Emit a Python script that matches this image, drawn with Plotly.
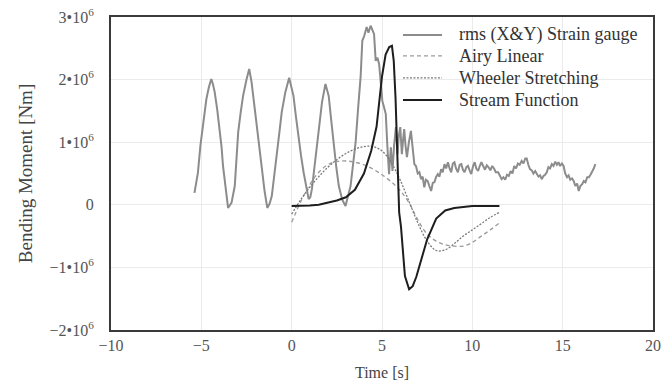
import plotly.graph_objects as go

# ---- data (time in s, bending moment in units of 1e6 Nm) ----
gauge_t = [-5.38, -5.19, -5.05, -4.91, -4.80, -4.72, -4.58, -4.45, -4.36, -4.26, -4.12, -3.98, -3.88, -3.80, -3.66,
           -3.52, -3.45, -3.33, -3.15, -3.05, -2.96, -2.82, -2.69, -2.50, -2.35, -2.22, -2.08, -1.94, -1.80, -1.66,
           -1.50, -1.35, -1.22, -1.10, -0.95, -0.79, -0.67, -0.55, -0.35, -0.14, 0.10, 0.24, 0.38, 0.52, 0.66,
           0.80, 0.94, 1.03, 1.12, 1.26, 1.40, 1.55, 1.68, 1.87, 2.05, 2.19, 2.33, 2.47, 2.61, 2.80,
           2.98, 3.10, 3.26, 3.40, 3.54, 3.68, 3.82, 3.91, 4.02, 4.15, 4.25, 4.37, 4.47, 4.56, 4.65,
           4.75, 4.84, 4.93, 5.02, 5.12, 5.21, 5.30, 5.39, 5.49, 5.58, 5.67, 5.77, 5.86, 5.93, 6.01,
           6.10, 6.17, 6.23, 6.30, 6.38, 6.49, 6.60, 6.70, 6.79, 6.88, 6.98, 7.07, 7.16, 7.25, 7.34,
           7.43, 7.53, 7.62, 7.72, 7.81, 7.90, 8.00, 8.09, 8.18, 8.27, 8.36, 8.46, 8.55, 8.65, 8.74,
           8.83, 8.92, 9.01, 9.10, 9.20, 9.30, 9.39, 9.48, 9.57, 9.67, 9.76, 9.85, 9.94, 10.04, 10.13,
           10.22, 10.32, 10.41, 10.50, 10.60, 10.70, 10.80, 10.90, 11.00, 11.10, 11.20, 11.30, 11.43, 11.53, 11.62,
           11.72, 11.82, 11.92, 12.02, 12.12, 12.22, 12.32, 12.42, 12.52, 12.62, 12.73, 12.83, 12.93, 13.01, 13.10,
           13.19, 13.29, 13.38, 13.48, 13.57, 13.66, 13.75, 13.84, 13.94, 14.03, 14.12, 14.21, 14.30, 14.40, 14.49,
           14.59, 14.68, 14.77, 14.86, 14.96, 15.05, 15.14, 15.24, 15.33, 15.42, 15.52, 15.61, 15.70, 15.80, 15.89,
           15.98, 16.08, 16.17, 16.26, 16.36, 16.45, 16.54, 16.63, 16.72, 16.81]
gauge_v = [0.19, 0.51, 0.95, 1.26, 1.50, 1.69, 1.88, 2.01, 1.93, 1.80, 1.52, 1.21, 0.92, 0.62, 0.30,
           -0.05, -0.02, 0.03, 0.30, 0.70, 1.16, 1.48, 1.74, 2.00, 2.17, 1.96, 1.62, 1.26, 0.90, 0.57,
           0.22, -0.05, 0.02, 0.14, 0.48, 0.84, 1.18, 1.48, 1.80, 2.03, 1.74, 1.40, 1.05, 0.78, 0.52,
           0.28, 0.09, 0.12, 0.25, 0.60, 0.94, 1.30, 1.64, 1.93, 1.74, 1.35, 0.94, 0.60, 0.30, 0.08,
           -0.02, 0.10, 0.30, 0.65, 1.00, 1.55, 2.06, 2.62, 2.70, 2.84, 2.75, 2.86, 2.80, 2.73, 2.30,
           2.35, 2.25, 1.90, 1.66, 1.55, 1.45, 0.92, 0.49, 0.92, 0.54, 0.95, 1.24, 0.81, 1.10, 1.24,
           0.81, 1.05, 1.21, 0.95, 0.76, 1.00, 1.18, 0.90, 0.65, 0.62, 0.50, 0.52, 0.41, 0.45, 0.28,
           0.40, 0.38, 0.30, 0.22, 0.35, 0.36, 0.45, 0.49, 0.45, 0.57, 0.52, 0.65, 0.58, 0.68, 0.58,
           0.52, 0.66, 0.68, 0.58, 0.52, 0.64, 0.65, 0.56, 0.52, 0.60, 0.62, 0.55, 0.49, 0.62, 0.68,
           0.58, 0.54, 0.62, 0.68, 0.62, 0.56, 0.63, 0.60, 0.55, 0.62, 0.58, 0.52, 0.52, 0.46, 0.41,
           0.44, 0.40, 0.48, 0.46, 0.54, 0.50, 0.62, 0.58, 0.66, 0.64, 0.70, 0.66, 0.74, 0.74, 0.64,
           0.57, 0.55, 0.50, 0.54, 0.49, 0.45, 0.47, 0.41, 0.46, 0.48, 0.52, 0.60, 0.58, 0.65, 0.62,
           0.69, 0.64, 0.68, 0.62, 0.66, 0.62, 0.50, 0.44, 0.47, 0.40, 0.42, 0.38, 0.30, 0.34, 0.22,
           0.30, 0.33, 0.38, 0.36, 0.44, 0.44, 0.48, 0.52, 0.58, 0.65]

airy_t = [0, 0.5, 1.0, 1.5, 2.0, 2.5, 3.0, 3.5, 4.0, 4.5, 5.0, 5.5, 6.0, 6.5, 7.0, 7.5, 8.0, 8.5, 9.0,
          9.5, 10.0, 10.5, 11.0, 11.5]
airy_v = [-0.28, 0.05, 0.32, 0.52, 0.64, 0.69, 0.70, 0.68, 0.64, 0.57, 0.48, 0.37, 0.23, 0.03, -0.25,
          -0.47, -0.58, -0.64, -0.66, -0.66, -0.60, -0.50, -0.40, -0.29]

wheeler_t = [0, 0.5, 1.0, 1.5, 2.0, 2.5, 3.0, 3.5, 4.0, 4.5, 5.0, 5.5, 6.0, 6.5, 7.0, 7.5, 8.0, 8.5, 9.0,
             9.5, 10.0, 10.5, 11.0, 11.5]
wheeler_v = [-0.15, 0.08, 0.28, 0.45, 0.60, 0.72, 0.82, 0.89, 0.93, 0.93, 0.86, 0.68, 0.40, 0.05, -0.30,
             -0.58, -0.73, -0.72, -0.62, -0.50, -0.40, -0.30, -0.20, -0.12]

stream_t = [0, 0.5, 1.0, 1.5, 2.0, 2.5, 3.0, 3.5, 4.0, 4.4, 4.7, 5.0, 5.2, 5.4, 5.55, 5.65, 5.75, 5.85,
            5.95, 6.05, 6.15, 6.27, 6.5, 6.7, 6.9, 7.2, 7.5, 8.0, 8.5, 9.0, 9.5, 10.0, 10.5, 11.0, 11.5]
stream_v = [-0.02, -0.02, -0.01, 0.0, 0.03, 0.07, 0.12, 0.24, 0.50, 0.86, 1.25, 2.05, 2.40, 2.52, 2.54,
            2.30, 1.70, 0.90, -0.12, -0.35, -0.70, -1.14, -1.35, -1.30, -1.15, -0.85, -0.55, -0.22, -0.09,
            -0.05, -0.03, -0.02, -0.02, -0.02, -0.02]

series_names = ["rms (X&Y) Strain gauge", "Airy Linear", "Wheeler Stretching", "Stream Function"]

SCALE = 1e6
x_ticks = [-10, -5, 0, 5, 10, 15, 20]
x_ticktext = ["\u221210", "\u22125", "0", "5", "10", "15", "20"]
y_ticks = [-2e6, -1e6, 0, 1e6, 2e6, 3e6]
y_ticktext = ["\u22122\u202210<sup>6</sup>", "\u22121\u202210<sup>6</sup>", "0",
              "1\u202210<sup>6</sup>", "2\u202210<sup>6</sup>", "3\u202210<sup>6</sup>"]

FONT = "Liberation Serif, Times New Roman, serif"

styles = [
    dict(color="#8c8c8c", width=2),
    dict(color="#9a9a9a", width=1.3, dash="4px,3px"),
    dict(color="#7a7a7a", width=1.3, dash="2px,1.5px"),
    dict(color="#1e1e1e", width=2),
]
data = [(gauge_t, gauge_v, "linear"), (airy_t, airy_v, "spline"),
        (wheeler_t, wheeler_v, "spline"), (stream_t, stream_v, "linear")]

fig = go.Figure()
for (t, v, shape), name, st in zip(data, series_names, styles):
    fig.add_trace(go.Scatter(x=t, y=[val * SCALE for val in v], mode="lines", name=name,
                             line_shape=shape, line=st, showlegend=False))

# manual legend (paper coords within the plot area)
leg_x0, leg_x1, leg_tx = 0.5387, 0.6107, 0.6384
leg_rows = [0.9426, 0.8756, 0.8054, 0.7352]
shapes = []
annotations = []
for name, st, yy in zip(series_names, styles, leg_rows):
    shapes.append(dict(type="line", xref="paper", yref="paper", x0=leg_x0, x1=leg_x1, y0=yy, y1=yy,
                       line=st))
    annotations.append(dict(xref="paper", yref="paper", x=leg_tx, y=yy, text=name, showarrow=False,
                            xanchor="left", yanchor="middle",
                            font=dict(family=FONT, size=18, color="#333333")))

fig.update_layout(
    width=663, height=385,
    margin=dict(l=111, r=10, t=17, b=55),
    paper_bgcolor="white", plot_bgcolor="white",
    font=dict(family=FONT, color="#444444"),
    showlegend=False,
    shapes=shapes, annotations=annotations,
    xaxis=dict(range=[-10, 20], tickvals=x_ticks, ticktext=x_ticktext, automargin=False,
               showgrid=True, gridcolor="#ebebeb", gridwidth=1, zeroline=False,
               showline=True, linecolor="#3a3a3a", linewidth=2, mirror=True,
               ticks="", tickfont=dict(family=FONT, size=16, color="#555555"),
               ticklabelstandoff=0, ticklabeloverflow="allow",
               title=dict(text="Time [s]", font=dict(family=FONT, size=16, color="#444444"), standoff=14)),
    yaxis=dict(range=[-2e6, 3e6], tickvals=y_ticks, ticktext=y_ticktext, automargin=False,
               showgrid=True, gridcolor="#ebebeb", gridwidth=1, zeroline=False,
               showline=True, linecolor="#3a3a3a", linewidth=2, mirror=True,
               ticks="", tickfont=dict(family=FONT, size=16, color="#555555"),
               ticklabelstandoff=12, ticklabeloverflow="allow",
               title=dict(text="Bending Moment [Nm]", font=dict(family=FONT, size=19, color="#444444"),
                          standoff=12)),
)

fig.write_html("out.html", config={"displayModeBar": False},
               post_script="document.body.style.margin='0';")
